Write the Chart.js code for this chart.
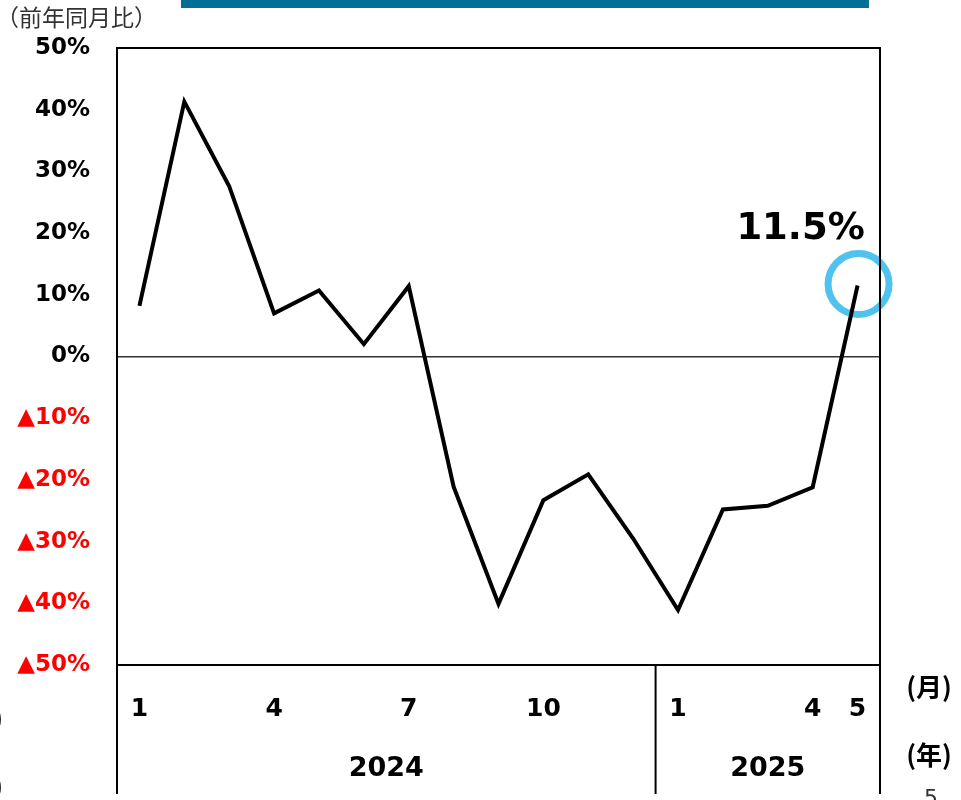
<!DOCTYPE html>
<html lang="ja">
<head>
<meta charset="utf-8">
<script src="https://cdn.jsdelivr.net/npm/chart.js@4/dist/chart.umd.min.js"></script>
<style>
  body { margin: 0; background: #fff; }
  canvas { display: block; }
</style>
</head>
<body>
<canvas id="chart" width="961" height="800"></canvas>
<script>
// 月ラベル（2024年1月〜2025年5月）
const months = ['1', '2', '3', '4', '5', '6', '7', '8', '9', '10', '11', '12', '1', '2', '3', '4', '5'];
const labeledMonths = [0, 3, 6, 9, 12, 15, 16];
const years = ['2024', '2025'];
const yearLengths = [12, 5];
// 前年同月比（%）
const values = [8.2, 41.3, 27.6, 7.0, 10.7, 2.0, 11.4, -21.1, -40.1, -23.3, -19.1, -29.5, -41.1, -24.8, -24.2, -21.2, 11.5];
const yTicks = [50, 40, 30, 20, 10, 0, -10, -20, -30, -40, -50];

const latin = "'DejaVu Sans', Verdana, sans-serif";
const cjk = "'Noto Sans CJK JP', sans-serif";

// 枠線・年の区切り・注記など
const decorations = {
  id: 'decorations',
  beforeDatasetsDraw(chart) {
    const ctx = chart.ctx;
    const meta = chart.getDatasetMeta(0);
    const last = meta.data[meta.data.length - 1];
    // 最新月の丸印（折れ線の下に描く）
    ctx.save();
    ctx.strokeStyle = '#4FC3EE';
    ctx.lineWidth = 7;
    ctx.beginPath();
    ctx.arc(last.x + 1, last.y - 1.5, 30.5, 0, Math.PI * 2);
    ctx.stroke();
    ctx.restore();
  },
  afterDraw(chart) {
    const ctx = chart.ctx;
    const a = chart.chartArea;
    const x = chart.scales.x;
    const meta = chart.getDatasetMeta(0);
    const last = meta.data[meta.data.length - 1];
    const bottom = 794;

    ctx.save();
    // 上部の帯
    ctx.fillStyle = '#036E96';
    ctx.fillRect(181, 0, 688, 8);

    // 単位
    ctx.fillStyle = '#333';
    ctx.font = '23px ' + cjk;
    ctx.textAlign = 'left';
    ctx.textBaseline = 'middle';
    ctx.fillText('（前年同月比）', -4, 17);

    // グラフ枠と下の表
    ctx.strokeStyle = '#000';
    ctx.lineWidth = 2;
    ctx.beginPath();
    ctx.moveTo(a.left, bottom);
    ctx.lineTo(a.left, a.top);
    ctx.lineTo(a.right, a.top);
    ctx.lineTo(a.right, bottom);
    ctx.moveTo(a.left, a.bottom);
    ctx.lineTo(a.right, a.bottom);
    let start = 0;
    const bounds = [a.left];
    yearLengths.forEach((n, i) => {
      start += n;
      if (i < yearLengths.length - 1) {
        const sx = (x.getPixelForValue(start - 1) + x.getPixelForValue(start)) / 2;
        ctx.moveTo(sx, a.bottom);
        ctx.lineTo(sx, bottom);
        bounds.push(sx);
      }
    });
    bounds.push(a.right);
    ctx.stroke();

    // 年ラベル
    ctx.fillStyle = '#000';
    ctx.font = 'bold 27px ' + latin;
    ctx.textAlign = 'center';
    years.forEach((y, i) => {
      ctx.fillText(y, (bounds[i] + bounds[i + 1]) / 2, 769);
    });

    // 単位（月・年）
    ctx.font = 'bold 26px ' + cjk;
    ctx.fillText('(月)', 929, 687);
    ctx.fillText('(年)', 929, 755);
    ctx.textAlign = 'right';
    ctx.fillText('(月)', 3, 718);
    ctx.fillText('(年)', 3, 786);
    ctx.font = '22px ' + latin;
    ctx.fillStyle = '#333';
    ctx.textAlign = 'center';
    ctx.textBaseline = 'top';
    ctx.fillText('5', 931, 788);

    // 最新値
    ctx.fillStyle = '#000';
    ctx.font = 'bold 37px ' + latin;
    ctx.textBaseline = 'middle';
    ctx.fillText(values[values.length - 1].toFixed(1) + '%', last.x - 57, last.y - 56);
    ctx.restore();
  }
};

new Chart(document.getElementById('chart'), {
  type: 'line',
  data: {
    labels: months,
    datasets: [{
      data: values,
      borderColor: '#000',
      borderWidth: 4,
      pointRadius: 0,
      tension: 0,
      clip: false
    }]
  },
  options: {
    responsive: false,
    animation: false,
    layout: { padding: { top: 48, right: 81, left: 0, bottom: 0 } },
    plugins: { legend: { display: false }, tooltip: { enabled: false } },
    scales: {
      x: {
        offset: true,
        afterFit(s) { s.height = 135; },
        grid: { display: false, drawTicks: false },
        border: { display: false },
        ticks: {
          autoSkip: false,
          maxRotation: 0,
          padding: 29,
          color: '#000',
          font: { family: latin, size: 25, weight: 'bold' },
          callback: (v, i) => labeledMonths.includes(i) ? months[i] : ''
        }
      },
      y: {
        min: -50,
        max: 50,
        afterFit(s) { s.width = 117; },
        afterBuildTicks(s) { s.ticks = yTicks.map(v => ({ value: v })); },
        grid: {
          drawTicks: false,
          lineWidth: 1.5,
          color: c => c.tick && c.tick.value === 0 ? '#333' : 'rgba(0,0,0,0)'
        },
        border: { display: false },
        ticks: {
          padding: 27,
          color: c => c.tick.value < 0 ? '#FF0000' : '#000',
          font: { family: latin, size: 23, weight: 'bold' },
          callback: v => v < 0 ? '▲' + (-v) + '%' : v + '%'
        }
      }
    }
  },
  plugins: [decorations]
});
</script>
</body>
</html>
